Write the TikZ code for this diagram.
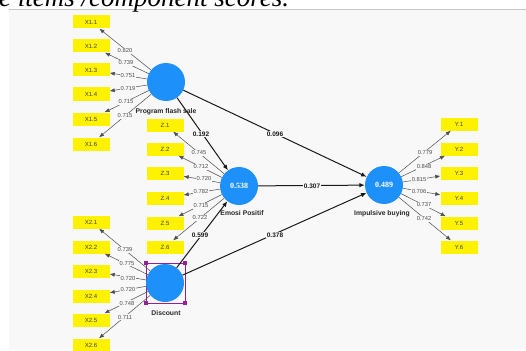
\documentclass[tikz,border=0pt]{standalone}
\usepackage{fontspec}
\setmainfont{Liberation Sans}
\newfontfamily\seriffont{Liberation Serif}
\usetikzlibrary{arrows.meta}
\definecolor{panel}{RGB}{248,248,248}
\definecolor{lv}{RGB}{30,144,250}
\definecolor{sel}{RGB}{150,30,150}
\begin{document}
\begin{tikzpicture}[x=1pt,y=-1pt,
 ind/.style={fill=yellow, minimum width=37pt, minimum height=13pt, inner sep=0pt, font=\fontsize{6}{7}\selectfont, text=black!75},
 lvc/.style={circle, fill=lv, minimum size=38pt, inner sep=0pt, text=white, font=\seriffont\bfseries\fontsize{8}{9}\selectfont},
 lvname/.style={inner sep=0.5pt, font=\bfseries\fontsize{6.8}{8}\selectfont, text=black!85},
 load/.style={draw=black!70, line width=0.5pt, -{Latex[length=5pt,width=4pt]}},
 pathc/.style={draw=black!90, line width=1pt, -{Latex[length=5.5pt,width=4.5pt]}},
 ll/.style={fill=panel, inner sep=0.6pt, font=\fontsize{5.8}{6.5}\selectfont, text=black!70},
 pl/.style={fill=panel, inner sep=0.6pt, font=\bfseries\fontsize{6.5}{7}\selectfont, text=black!90}]
\useasboundingbox (0,0) rectangle (526,350);
\fill[white] (0,0) rectangle (526,350);
\fill[panel] (9,10) rectangle (526,350);
\draw[black!22, line width=1pt] (9,10) -- (526,10);
\node[anchor=base west, inner sep=0pt, font=\seriffont\itshape\fontsize{27}{30}\selectfont] (cap) at (-1,7) {e items /component scores.};

% selection frame on Discount (behind the circle)
\draw[sel, line width=0.4pt] (146,263) rectangle (185,303);
\foreach \p in {(146,263),(185,263),(146,303),(185,303)}
  \fill[sel] \p +(-1.6,-1.6) rectangle +(1.6,1.6);

% latent variables
\node[lvc] (pfs) at (166,82) {};
\node[lvc] (ep) at (239,186) {0.538};
\node[lvc] (dis) at (165,283) {};
\node[lvc] (ib) at (384,185) {0.489};
\node[lvname] (pfsn) at (166,112) {Program flash sale};
\node[lvname] (epn) at (242,213) {Emosi Positif};
\node[lvname] (disn) at (166,313) {Discount};
\node[lvname] (ibn) at (382,214) {Impulsive buying};

% indicators
\foreach \i/\y in {1/22,2/46,3/70,4/94,5/119,6/144}
  \node[ind] (x1\i) at (91,\y) {X1.\i};
\foreach \i/\y in {1/125,2/149,3/173,4/198,5/223,6/247}
  \node[ind] (z\i) at (165,\y) {Z.\i};
\foreach \i/\y in {1/222,2/247,3/271,4/296,5/320,6/345}
  \node[ind] (x2\i) at (91,\y) {X2.\i};
\foreach \i/\y in {1/124,2/149,3/173,4/198,5/223,6/247}
  \node[ind] (y\i) at (459,\y) {Y.\i};

% loadings
\foreach \i in {1,...,6} {
  \draw[load] (pfs) -- (x1\i);
  \draw[load] (ep) -- (z\i);
  \draw[load] (dis) -- (x2\i);
  \draw[load] (ib) -- (y\i);
}

% structural paths
\draw[pathc] (pfs) -- (ep);
\draw[pathc] (pfs) -- (ib);
\draw[pathc] (ep) -- (ib);
\draw[pathc] (dis) -- (ep);
\draw[pathc] (dis) -- (ib);

% loading labels
\node[ll] (l11) at (125,51) {0.820};
\node[ll] (l12) at (126,63) {0.739};
\node[ll] (l13) at (128,76) {0.751};
\node[ll] (l14) at (128,89) {0.719};
\node[ll] (l15) at (126,102) {0.715};
\node[ll] (l16) at (125,116) {0.715};
\node[ll] (lz1) at (199,153) {0.745};
\node[ll] (lz2) at (201,167) {0.712};
\node[ll] (lz3) at (204,179) {0.720};
\node[ll] (lz4) at (201,192) {0.782};
\node[ll] (lz5) at (201,206) {0.715};
\node[ll] (lz6) at (200,218) {0.722};
\node[ll] (l21) at (125,250) {0.739};
\node[ll] (l22) at (127,263) {0.775};
\node[ll] (l23) at (128,278) {0.720};
\node[ll] (l24) at (128,289) {0.720};
\node[ll] (l25) at (127,303) {0.748};
\node[ll] (l26) at (125,317) {0.711};
\node[ll] (ly1) at (425,153) {0.779};
\node[ll] (ly2) at (424,167) {0.848};
\node[ll] (ly3) at (419,180) {0.815};
\node[ll] (ly4) at (419,192) {0.706};
\node[ll] (ly5) at (424,205) {0.737};
\node[ll] (ly6) at (424,219) {0.742};

% path labels
\node[pl] (p1) at (201,134) {0.192};
\node[pl] (p2) at (200,235) {0.599};
\node[pl] (p3) at (275,134) {0.096};
\node[pl] (p4) at (312,186) {0.307};
\node[pl] (p5) at (275,235) {0.378};
\end{tikzpicture}
\end{document}
